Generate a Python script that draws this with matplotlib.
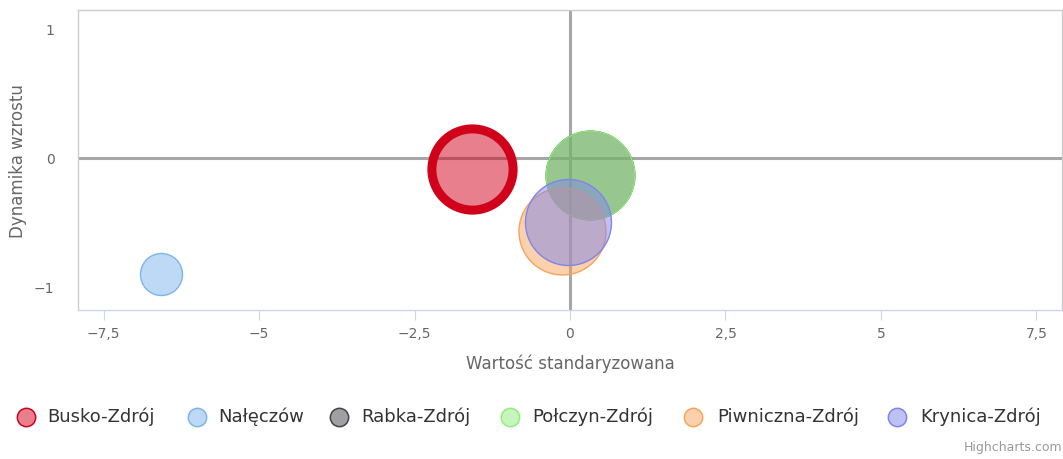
import matplotlib
matplotlib.use("Agg")
import matplotlib.pyplot as plt
from matplotlib.colors import to_rgba

plt.rcParams['font.family'] = ['DejaVu Sans']

names = ["Busko-Zdrój", "Nałęczów", "Rabka-Zdrój", "Połczyn-Zdrój", "Piwniczna-Zdrój", "Krynica-Zdrój"]
x_vals = [-1.58, -6.58, 0.32, 0.32, -0.13, -0.04]
y_vals = [-0.08, -0.90, -0.13, -0.13, -0.56, -0.49]
z_vals = [0.84, 0.225, 1.0, 1.0, 0.964, 0.942]
colors = ["#d0021b", "#7cb5ec", "#434348", "#90ed7d", "#f7a35c", "#8085e9"]
edge_widths = [6.5, 1.0, 1.0, 1.0, 1.0, 1.0]
x_ticks = [-7.5, -5, -2.5, 0, 2.5, 5, 7.5]
x_tick_labels = ["−7,5", "−5", "−2,5", "0", "2,5", "5", "7,5"]
y_ticks = [-1, 0, 1]
y_tick_labels = ["−1", "0", "1"]

W, H = 1063, 459
fig = plt.figure(figsize=(W / 100, H / 100), dpi=100)
ax = fig.add_axes([78 / W, 149 / H, 984 / W, 300 / H])

ax.set_xlim(-7.91, 7.91)
ax.set_ylim(-1.176, 1.15)

# zero lines beneath bubbles
ax.axvline(0, color="#a6a6a6", lw=2.2, zorder=1)
ax.axhline(0, color="#a6a6a6", lw=2.2, zorder=1)

s_max = 4070
for i, n in enumerate(names):
    fc = to_rgba(colors[i], 0.5)
    ax.scatter([x_vals[i]], [y_vals[i]], s=[z_vals[i] * s_max], facecolors=[fc],
               edgecolors=[colors[i]], linewidths=edge_widths[i], zorder=2 + i)

ax.set_xticks(x_ticks)
ax.set_xticklabels(x_tick_labels)
ax.set_yticks(y_ticks)
ax.set_yticklabels(y_tick_labels)
ax.tick_params(axis="x", direction="out", length=7.2, width=0.8, color="#ccd6eb",
               labelcolor="#666666", labelsize=10, pad=5)
ax.tick_params(axis="y", length=0, labelcolor="#666666", labelsize=10, pad=17)

for side in ["top", "left", "right"]:
    ax.spines[side].set_color("#cccccc")
    ax.spines[side].set_linewidth(1)
ax.spines["bottom"].set_color("#ccd6eb")
ax.spines["bottom"].set_linewidth(1)

ax.set_xlabel("Wartość standaryzowana", color="#666666", fontsize=12, labelpad=10)

# overlay axes in pixel coordinates for titles / legend / credit
ov = fig.add_axes([0, 0, 1, 1], facecolor="none")
ov.set_xlim(0, W)
ov.set_ylim(H, 0)
ov.axis("off")

ov.text(18, 161, "Dynamika wzrostu", rotation=90, ha="center", va="center",
        color="#666666", fontsize=12)

sym_x = [25.5, 197, 339, 510, 693, 897]
txt_x = [47.7, 218, 361, 532, 717, 920]
leg_y = 417
for i, n in enumerate(names):
    ov.plot([sym_x[i]], [leg_y], marker="o", linestyle="none", markersize=13.2,
            markerfacecolor=to_rgba(colors[i], 0.5), markeredgecolor=colors[i],
            markeredgewidth=1.1)
    ov.text(txt_x[i], leg_y, n, ha="left", va="center", color="#333333", fontsize=13)

ov.text(1062, 448, "Highcharts.com", ha="right", va="center", fontsize=9, color="#999999")

fig.savefig("out.png", dpi=100)
